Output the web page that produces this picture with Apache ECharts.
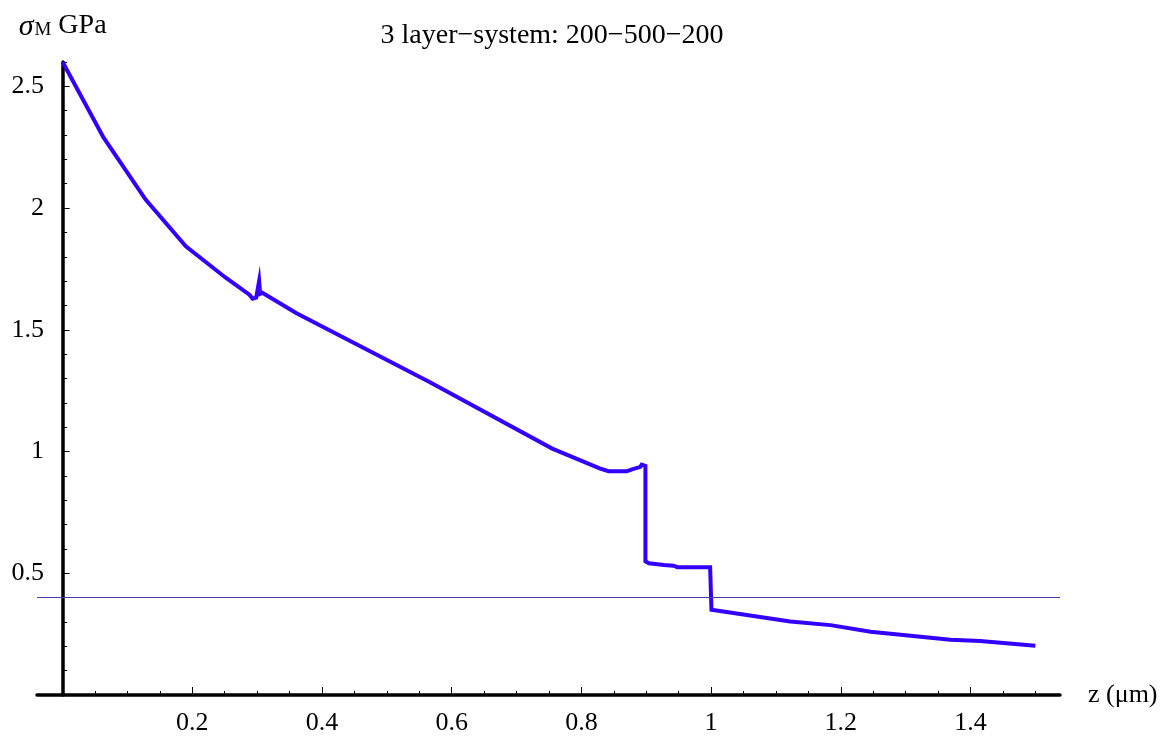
<!DOCTYPE html>
<html>
<head>
<meta charset="utf-8">
<script src="https://cdn.jsdelivr.net/npm/echarts@6/dist/echarts.min.js"></script>
<style>
html,body{margin:0;padding:0;background:#fff;}
#chart{width:1173px;height:742px;}
</style>
</head>
<body>
<div id="chart"></div>
<script>
// ---- data ----
const titleText = '3 layer\u2212system: 200\u2212500\u2212200';
const xName = 'z (\u03bcm)';
const zValues = [0, 0.063, 0.128, 0.19, 0.251, 0.288, 0.293, 0.2985, 0.303, 0.3045, 0.308, 0.36, 0.565, 0.755, 0.829, 0.842, 0.870, 0.878, 0.891, 0.893, 0.8987, 0.8987, 0.904, 0.927, 0.942, 0.948, 0.9985, 1.0005, 1.122, 1.184, 1.246, 1.369, 1.415, 1.5];
const sigmaValues = [2.60, 2.29, 2.035, 1.843, 1.715, 1.644, 1.628, 1.632, 1.70, 1.648, 1.652, 1.569, 1.287, 1.012, 0.930, 0.919, 0.919, 0.927, 0.937, 0.946, 0.941, 0.549, 0.541, 0.534, 0.531, 0.525, 0.525, 0.350, 0.302, 0.287, 0.260, 0.227, 0.222, 0.202];
const thresholdValue = 0.4;
const xMajorTicks = [0.2, 0.4, 0.6, 0.8, 1, 1.2, 1.4];
const xMinorTicks = [0.05, 0.1, 0.15, 0.25, 0.3, 0.35, 0.45, 0.5, 0.55, 0.65, 0.7, 0.75, 0.85, 0.9, 0.95, 1.05, 1.1, 1.15, 1.25, 1.3, 1.35, 1.45, 1.5];
const yMajorTicks = [0.5, 1, 1.5, 2, 2.5];
const yMinorTicks = [0.1, 0.2, 0.3, 0.4, 0.6, 0.7, 0.8, 0.9, 1.1, 1.2, 1.3, 1.4, 1.6, 1.7, 1.8, 1.9, 2.1, 2.2, 2.3, 2.4, 2.6];

const seriesData = zValues.map((z, i) => [z, sigmaValues[i]]);
const FONT = 'Liberation Serif';
const XMIN = -0.0395, XMAX = 1.538, YMIN = 0, YMAX = 2.6;

const chart = echarts.init(document.getElementById('chart'), null, {renderer: 'canvas'});
const baseX = {
  type: 'value', min: XMIN, max: XMAX, position: 'bottom',
  splitLine: {show: false},
  axisLine: {onZero: true, lineStyle: {color: '#000', width: 3.5}}
};
const baseY = {
  type: 'value', min: YMIN, max: YMAX, position: 'left',
  splitLine: {show: false},
  axisLine: {onZero: true, lineStyle: {color: '#000', width: 3.5}}
};
chart.setOption({
  animation: false,
  backgroundColor: '#fff',
  title: {
    text: titleText, left: 547, top: 17, textAlign: 'center',
    textStyle: {fontFamily: FONT, fontSize: 28, fontWeight: 'normal', color: '#000'}
  },
  grid: {left: 37, right: 113, top: 62, bottom: 47, containLabel: false, outerBoundsMode: 'none'},
  xAxis: [
    Object.assign({}, baseX, {
      name: xName, nameLocation: 'end', nameGap: 28,
      nameTextStyle: {fontFamily: FONT, fontSize: 26, color: '#000', verticalAlign: 'middle'},
      axisTick: {show: true, inside: true, length: 8, customValues: xMajorTicks, lineStyle: {color: '#000', width: 1}},
      axisLabel: {show: true, customValues: xMajorTicks, margin: 15, fontFamily: FONT, fontSize: 26, color: '#000',
        formatter: v => String(v)}
    }),
    Object.assign({}, baseX, {
      axisLine: {show: false, onZero: true},
      axisTick: {show: true, inside: true, length: 4, customValues: xMinorTicks, lineStyle: {color: '#000', width: 1}},
      axisLabel: {show: false}
    })
  ],
  yAxis: [
    Object.assign({}, baseY, {
      name: '{s|\u03c3}{m|M} {g|GPa}', nameLocation: 'end', nameGap: 22,
      nameTextStyle: {
        fontFamily: FONT, fontSize: 28, color: '#000', align: 'center',
        rich: {
          s: {fontFamily: FONT, fontSize: 30, fontStyle: 'italic', color: '#000', lineHeight: 28, verticalAlign: 'top'},
          m: {fontFamily: FONT, fontSize: 19, color: '#000', lineHeight: 19, verticalAlign: 'bottom', padding: [13, 0, 0, 1]},
          g: {fontFamily: FONT, fontSize: 28, color: '#000', lineHeight: 28, verticalAlign: 'top'}
        }
      },
      axisTick: {show: true, inside: true, length: 7, customValues: yMajorTicks, lineStyle: {color: '#000', width: 1}},
      axisLabel: {show: true, customValues: yMajorTicks, margin: -7, fontFamily: FONT, fontSize: 26, color: '#000',
        formatter: v => String(v)}
    }),
    Object.assign({}, baseY, {
      axisLine: {show: false, onZero: true},
      axisTick: {show: true, inside: true, length: 4.5, customValues: yMinorTicks, lineStyle: {color: '#000', width: 1}},
      axisLabel: {show: false}
    })
  ],
  series: [{
    type: 'line',
    xAxisIndex: 0, yAxisIndex: 0,
    data: seriesData,
    showSymbol: false,
    symbol: 'none',
    lineStyle: {color: '#3300ff', width: 4, join: 'miter'},
    clip: false,
    z: 3,
    markLine: {
      silent: true, symbol: 'none', animation: false,
      label: {show: false},
      lineStyle: {color: '#4040b0', width: 1.2, type: 'solid'},
      data: [{yAxis: thresholdValue}]
    }
  }]
});
</script>
</body>
</html>
